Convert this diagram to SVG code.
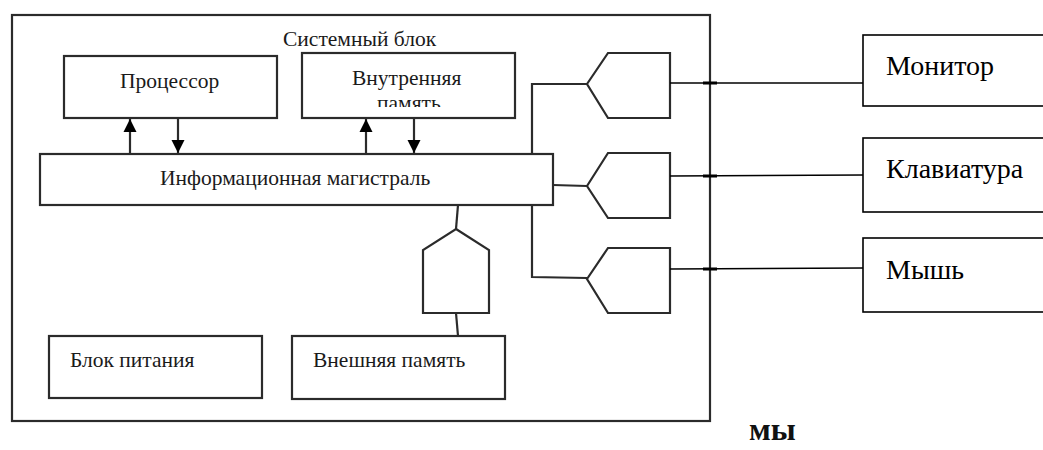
<svg xmlns="http://www.w3.org/2000/svg" width="1043" height="450" viewBox="0 0 1043 450">
<style>
.box{fill:#fff;stroke:#2b2b2b;stroke-width:2.2}
.ln{fill:none;stroke:#2b2b2b;stroke-width:2.2}
.ext{fill:none;stroke:#000;stroke-width:1.6}
.t{font-family:"Liberation Serif","DejaVu Serif","Times New Roman",serif;font-size:21.5px;fill:#1a1a1a}
.tr{font-family:"Liberation Serif","DejaVu Serif","Times New Roman",serif;font-size:28px;fill:#000}
.iface{fill:#fff;stroke:#2b2b2b;stroke-width:2.2;stroke-linejoin:miter}
</style>
<defs>
<marker id="ah" viewBox="0 0 10 10" refX="10" refY="5" markerWidth="6" markerHeight="6" orient="auto" markerUnits="strokeWidth">
<path d="M0,0 L10,5 L0,10 Z" fill="#000"/>
</marker>
<clipPath id="clipMem"><rect x="300" y="90" width="200" height="17"/></clipPath>
</defs>
<rect width="1043" height="450" fill="#fff"/>

<g id="system-unit">
<rect class="box" x="12" y="15" width="698" height="406"/>
<text class="t" x="283" y="46">Системный блок</text>
</g>

<g id="processor">
<rect class="box" x="64" y="56" width="213" height="62"/>
<text class="t" x="120" y="88">Процессор</text>
</g>

<g id="internal-memory">
<rect class="box" x="302" y="53" width="213" height="65"/>
<text class="t" x="352" y="85">Внутренняя</text>
<text class="t" x="377" y="110" font-size="21" clip-path="url(#clipMem)">память</text>
</g>

<g id="bus">
<rect class="box" x="40" y="154" width="513" height="51"/>
<text class="t" x="160" y="185">Информационная магистраль</text>
</g>

<g id="power-unit">
<rect class="box" x="49" y="336" width="213" height="62"/>
<text class="t" x="70" y="367">Блок питания</text>
</g>

<g id="external-memory">
<rect class="box" x="292" y="336" width="213" height="63"/>
<text class="t" x="313" y="367">Внешняя память</text>
</g>

<g id="port-monitor"><path class="iface" d="M587,84 L608,53 L670,53 L670,118 L608,118 Z"/></g>
<g id="port-keyboard"><path class="iface" d="M587,186 L608,153 L670,153 L670,218 L608,218 Z"/></g>
<g id="port-mouse"><path class="iface" d="M587,279 L608,248 L670,248 L670,313 L608,313 Z"/></g>
<g id="port-storage"><path class="iface" d="M456,229 L489,250 L489,313 L423,313 L423,250 Z"/></g>

<g id="monitor">
<rect class="ext" x="863" y="35" width="200" height="71"/>
<text class="tr" x="886" y="75">Монитор</text>
</g>
<g id="keyboard">
<rect class="ext" x="863" y="138" width="200" height="74"/>
<text class="tr" x="886" y="178">Клавиатура</text>
</g>
<g id="mouse">
<rect class="ext" x="863" y="238" width="200" height="74"/>
<text class="tr" x="886" y="279">Мышь</text>
</g>

<g id="connectors">
<line class="ln" x1="130" y1="154" x2="130" y2="119" marker-end="url(#ah)"/>
<line class="ln" x1="178" y1="118" x2="178" y2="153" marker-end="url(#ah)"/>
<line class="ln" x1="366" y1="154" x2="366" y2="119" marker-end="url(#ah)"/>
<line class="ln" x1="414" y1="118" x2="414" y2="153" marker-end="url(#ah)"/>
<path class="ln" d="M532,154 L532,84 L587,84"/>
<path class="ln" d="M553,185 L587,186"/>
<path class="ln" d="M532,205 L532,277 L587,278"/>
<path class="ln" d="M458,205 L456,229"/>
<path class="ln" d="M456,313 L458,336"/>
<path class="ext" d="M670,83 L863,83"/>
<path class="ext" d="M670,176 L863,175"/>
<path class="ext" d="M670,269 L863,268"/>
<path stroke="#000" stroke-width="3" d="M703,83 L717,83 M703,176 L717,176 M703,269 L717,269"/>
</g>

<text x="749" y="440" font-family="'Liberation Serif','DejaVu Serif','Times New Roman',serif" font-weight="bold" font-size="32" fill="#111">мы</text>
</svg>
